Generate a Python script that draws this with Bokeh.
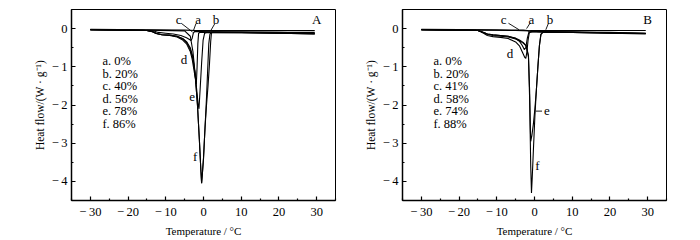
from bokeh.plotting import figure
from bokeh.layouts import row
from bokeh.models import FixedTicker, Range1d
from bokeh.core.properties import value
from bokeh.embed import file_html
from bokeh.resources import INLINE

FONT = "Liberation Serif"

# ---------------- data: panel A ----------------
A_a_x = [-30, -15, -5, -2, 0, 2, 10, 20, 29.5]
A_a_y = [-0.02, -0.03, -0.04, -0.05, -0.05, -0.05, -0.05, -0.05, -0.05]

A_b_x = [-30, -15, -5, -3.5, -2.8, -2.2, -1.6, -1.1, -0.7, -0.5, -0.3, 0.0, 0.4, 0.8, 1.2, 1.6, 1.9, 2.1, 2.5, 10, 20, 29.5]
A_b_y = [-0.03, -0.04, -0.06, -0.2, -0.6, -1.2, -2.0, -2.9, -3.7, -4.05, -3.8, -3.4, -2.6, -2.0, -1.5, -0.9, -0.35, -0.12, -0.09, -0.09, -0.1, -0.1]

A_c_x = [-30, -15, -13, -12, -10, -8, -6, -4.5, -3.6, -3.3, -3.0, -2.7, -2.4, -1, 10, 20, 29.5]
A_c_y = [-0.03, -0.05, -0.07, -0.1, -0.12, -0.14, -0.18, -0.24, -0.29, -0.31, -0.25, -0.12, -0.08, -0.08, -0.09, -0.1, -0.12]

A_d_x = [-30, -15, -13.5, -12.5, -11, -9, -7, -5.5, -4.5, -3.5, -3.0, -2.5, -2.1, -1.9, -1.7, -1.5, -1.3, -1.0, 0, 10, 20, 29.5]
A_d_y = [-0.03, -0.05, -0.08, -0.13, -0.16, -0.18, -0.22, -0.3, -0.4, -0.6, -0.8, -1.1, -1.35, -1.45, -1.0, -0.4, -0.12, -0.1, -0.1, -0.11, -0.12, -0.14]

A_e_x = [-30, -15, -13.5, -12.5, -11, -9, -7, -5.5, -4.5, -3.5, -2.8, -2.2, -1.8, -1.4, -1.2, -0.9, -0.5, -0.1, 0.3, 1, 10, 20, 29.5]
A_e_y = [-0.03, -0.05, -0.08, -0.13, -0.16, -0.17, -0.2, -0.27, -0.36, -0.55, -0.8, -1.2, -1.6, -2.0, -2.1, -1.6, -0.9, -0.3, -0.12, -0.1, -0.11, -0.12, -0.14]

A_f_x = [-30, -15, -13.5, -12.5, -11, -9, -7, -5.5, -4.5, -3.5, -2.8, -2.2, -1.6, -1.1, -0.7, -0.5, -0.3, 0.0, 0.4, 0.8, 1.1, 1.4, 1.7, 2, 10, 20, 29.5]
A_f_y = [-0.03, -0.05, -0.08, -0.13, -0.16, -0.17, -0.2, -0.26, -0.34, -0.5, -0.75, -1.2, -2.0, -2.9, -3.7, -4.05, -3.8, -3.4, -2.6, -1.8, -1.1, -0.4, -0.15, -0.1, -0.1, -0.12, -0.13]

# ---------------- data: panel B ----------------
B_a_x = [-30, -10, -3, -1.8, -1.5, -1.2, -0.8, 0, 10, 20, 29.5]
B_a_y = [-0.02, -0.03, -0.04, -0.05, -0.07, -0.06, -0.05, -0.05, -0.05, -0.05, -0.05]

B_b_x = [-30, -15, -5, -1, 0, 1.0, 2.0, 2.5, 10, 20, 29.5]
B_b_y = [-0.03, -0.04, -0.05, -0.06, -0.07, -0.08, -0.09, -0.09, -0.1, -0.11, -0.12]

B_c_x = [-30, -15, -13.5, -12.5, -11, -9, -7, -5, -4, -3.2, -2.7, -2.3, -1.9, -1.5, 0, 10, 20, 29.5]
B_c_y = [-0.03, -0.05, -0.1, -0.14, -0.16, -0.18, -0.2, -0.26, -0.33, -0.45, -0.55, -0.5, -0.25, -0.1, -0.08, -0.09, -0.1, -0.12]

B_d_x = [-30, -15, -13.5, -12.5, -11, -9, -7, -5, -4, -3.2, -2.6, -2.3, -2.0, -1.7, -1.4, -1.0, 0, 10, 20, 29.5]
B_d_y = [-0.03, -0.05, -0.12, -0.18, -0.21, -0.23, -0.26, -0.35, -0.45, -0.62, -0.75, -0.78, -0.6, -0.3, -0.12, -0.08, -0.08, -0.09, -0.11, -0.13]

B_e_x = [-30, -15, -13.5, -12.5, -11, -9, -7, -5, -4, -3, -2.2, -1.6, -1.3, -1.1, -1.0, -0.7, -0.3, 0.1, 0.5, 0.9, 1.3, 1.7, 2.2, 10, 20, 29.5]
B_e_y = [-0.03, -0.05, -0.1, -0.15, -0.18, -0.2, -0.22, -0.27, -0.32, -0.38, -0.45, -0.7, -1.6, -2.6, -2.95, -2.8, -2.5, -2.1, -1.6, -1.0, -0.45, -0.15, -0.1, -0.1, -0.12, -0.13]

B_f_x = [-30, -15, -13.5, -12.5, -11, -9, -7, -5, -4, -3, -2.2, -1.6, -1.3, -1.0, -0.8, -0.6, -0.3, 0.1, 0.5, 0.9, 1.3, 1.7, 2.2, 10, 20, 29.5]
B_f_y = [-0.03, -0.05, -0.1, -0.14, -0.16, -0.18, -0.2, -0.25, -0.3, -0.36, -0.45, -0.75, -1.8, -3.6, -4.3, -3.9, -3.2, -2.3, -1.6, -1.0, -0.45, -0.15, -0.1, -0.1, -0.12, -0.14]

# ---------------- texts ----------------
x_ticks = [-30, -20, -10, 0, 10, 20, 30]
x_tick_labels = ["\u2212\u200930", "\u2212\u200920", "\u2212\u200910", "0", "10", "20", "30"]
y_ticks = [0, -1, -2, -3, -4]
y_tick_labels = ["0", "\u2212\u20091", "\u2212\u20092", "\u2212\u20093", "\u2212\u20094"]

A_legend = ["a. 0%", "b. 20%", "c. 40%", "d. 56%", "e. 78%", "f. 86%"]
B_legend = ["a. 0%", "b. 20%", "c. 41%", "d. 58%", "e. 74%", "f. 88%"]
legend_y = [-0.85, -1.18, -1.51, -1.84, -2.17, -2.5]

A_curve_labels = ["a", "b", "c", "d", "e", "f", "A"]
A_curve_label_x = [-1.4, 3.3, -6.6, -5.2, -3.0, -2.2, 30]
A_curve_label_y = [0.23, 0.23, 0.23, -0.8, -1.79, -3.35, 0.23]
A_ptr = dict(x0=[-5.9, -2.0, 3.0], y0=[0.14, 0.13, 0.13], x1=[-2.9, -2.7, 2.0], y1=[-0.09, -0.06, -0.04])

B_curve_labels = ["a", "b", "c", "d", "e", "f", "B"]
B_curve_label_x = [-0.8, 4.1, -8.2, -6.5, 3.3, 0.8, 30]
B_curve_label_y = [0.23, 0.23, 0.23, -0.64, -2.16, -3.59, 0.23]
B_ptr = dict(x0=[-6.9, -1.2, 3.7, 2.0], y0=[0.14, 0.14, 0.14, -2.16], x1=[-4.1, -2.1, 3.0, 0.35], y1=[-0.03, 0.0, -0.03, -2.16])


def make_panel(series, legend, labels, lx, ly, ptr, left, right):
    p = figure(width=350, height=240, output_backend="svg", toolbar_location=None,
               x_range=Range1d(-35, 35), y_range=Range1d(-4.5, 0.5),
               min_border_left=left, min_border_right=right,
               min_border_top=9, min_border_bottom=40)
    p.xgrid.visible = False
    p.ygrid.visible = False
    p.outline_line_color = "black"
    p.outline_line_width = 1
    p.background_fill_color = "white"
    p.border_fill_color = "white"

    p.xaxis.ticker = FixedTicker(ticks=x_ticks, minor_ticks=[-35, -25, -15, -5, 5, 15, 25, 35])
    p.yaxis.ticker = FixedTicker(ticks=y_ticks, minor_ticks=[0.5, -0.5, -1.5, -2.5, -3.5, -4.5])
    p.xaxis.major_label_overrides = {float(t): s for t, s in zip(x_ticks, x_tick_labels)}
    p.yaxis.major_label_overrides = {float(t): s for t, s in zip(y_ticks, y_tick_labels)}
    for ax in (p.xaxis[0], p.yaxis[0]):
        ax.axis_line_width = 1.5
        ax.axis_line_color = "black"
        ax.major_tick_in = 4
        ax.major_tick_out = 0
        ax.minor_tick_in = 2
        ax.minor_tick_out = 0
        ax.major_tick_line_width = 1.2
        ax.minor_tick_line_width = 1.2
        ax.major_label_text_font = FONT
        ax.major_label_text_font_size = "12.5px"
        ax.major_label_text_color = "black"
        ax.major_label_standoff = 4
        ax.axis_label_text_font = FONT
        ax.axis_label_text_font_style = "normal"
        ax.axis_label_text_color = "black"
        ax.axis_label_standoff = 3
    p.xaxis.axis_label = "Temperature / \u00b0C"
    p.xaxis.axis_label_text_font_size = "11px"
    p.yaxis.axis_label = "Heat flow/(W \u00b7 g\u207b\u00b9)"
    p.yaxis.axis_label_text_font_size = "11.5px"

    for xs, ys in series:
        p.line(xs, ys, line_color="black", line_width=1.1)

    p.segment(x0=ptr["x0"], y0=ptr["y0"], x1=ptr["x1"], y1=ptr["y1"], line_color="black", line_width=0.9)

    p.text(x=[-26.8] * len(legend), y=legend_y, text=legend, text_font=value(FONT),
           text_font_size="12.5px", text_baseline="middle", text_align="left", text_color="black")
    p.text(x=lx, y=ly, text=labels, text_font=value(FONT), text_font_size="13px",
           text_baseline="middle", text_align="center", text_color="black")
    return p


pA = make_panel([(A_a_x, A_a_y), (A_b_x, A_b_y), (A_c_x, A_c_y), (A_d_x, A_d_y), (A_e_x, A_e_y), (A_f_x, A_f_y)],
                A_legend, A_curve_labels, A_curve_label_x, A_curve_label_y, A_ptr, 71, 15)
pB = make_panel([(B_a_x, B_a_y), (B_b_x, B_b_y), (B_c_x, B_c_y), (B_d_x, B_d_y), (B_e_x, B_e_y), (B_f_x, B_f_y)],
                B_legend, B_curve_labels, B_curve_label_x, B_curve_label_y, B_ptr, 52, 34)

layout = row(pA, pB)
open("out.html", "w").write(file_html(layout, INLINE))
